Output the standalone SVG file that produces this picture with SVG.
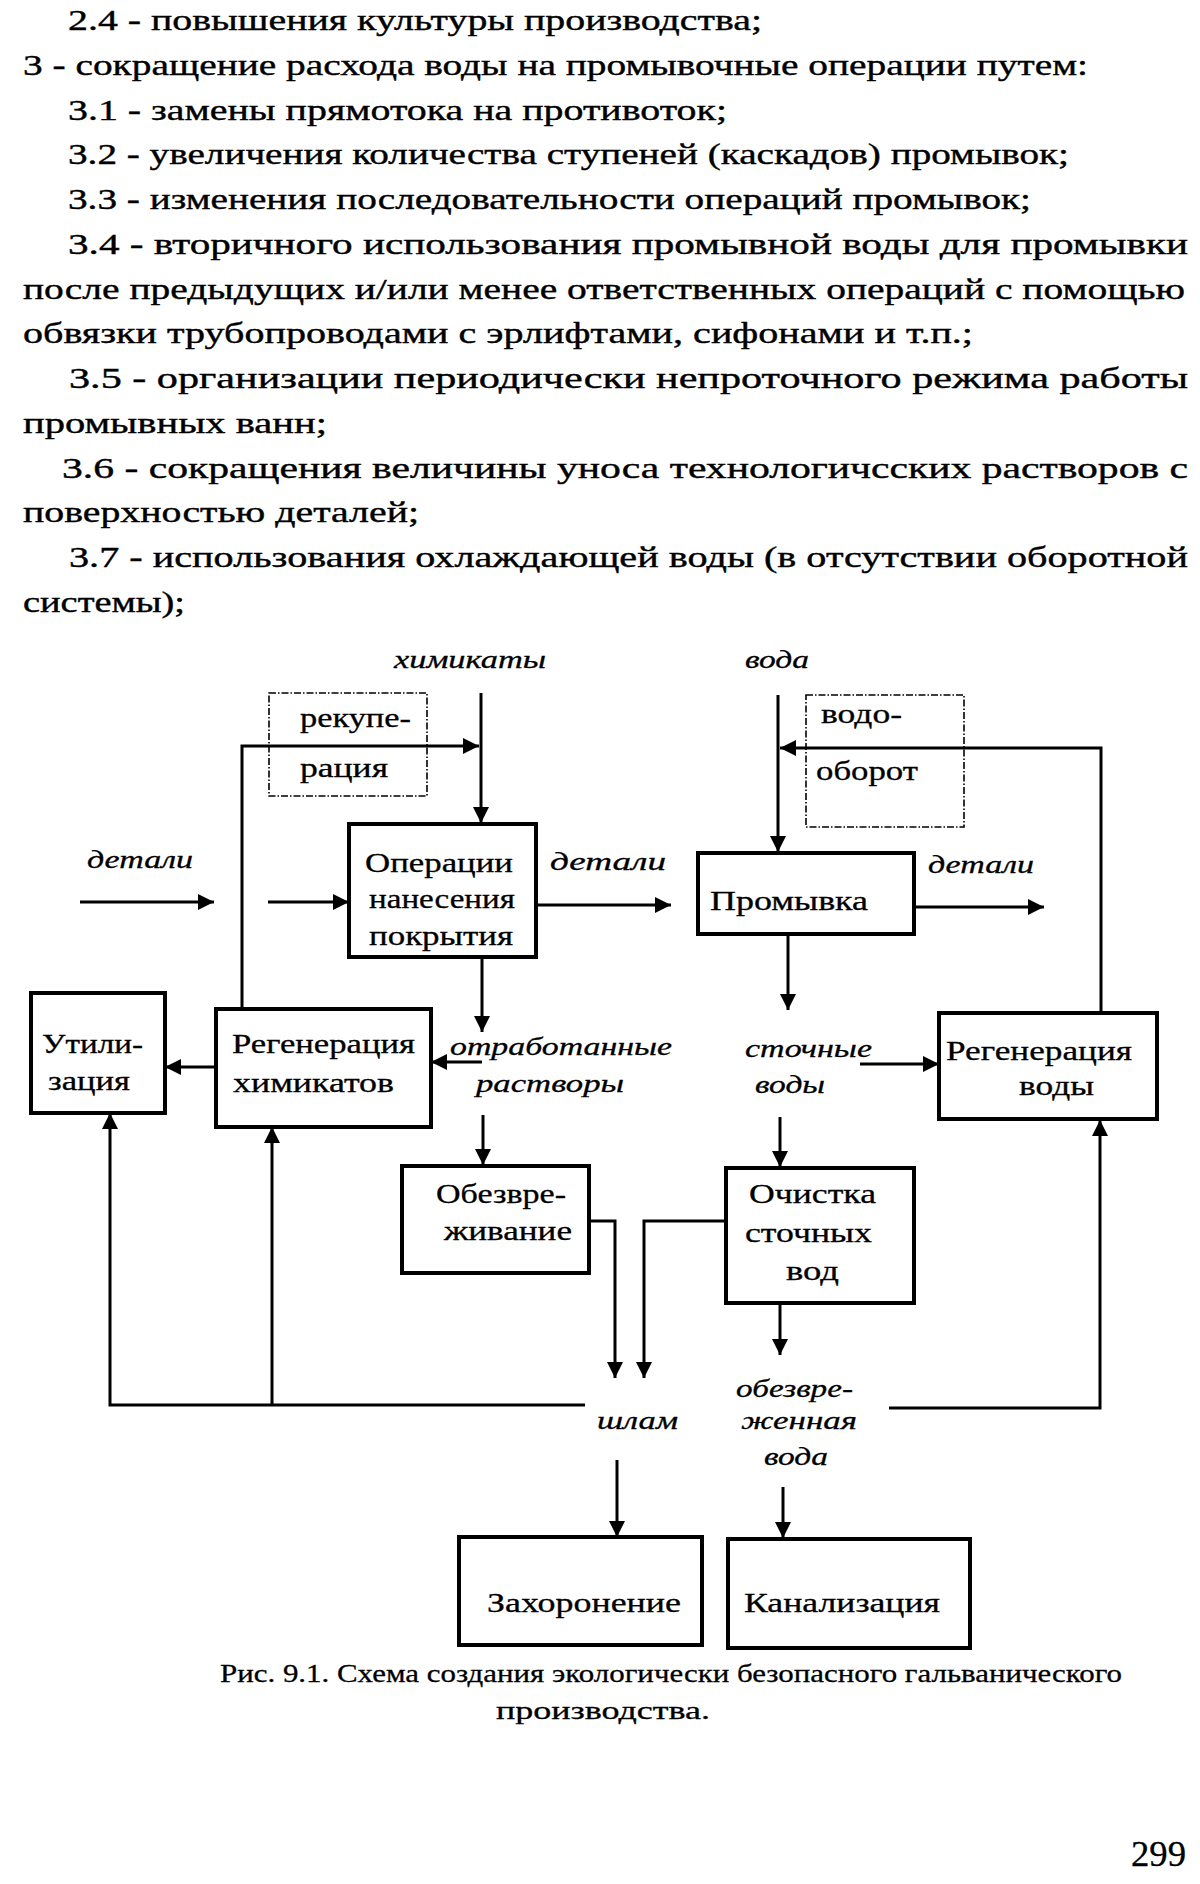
<svg xmlns="http://www.w3.org/2000/svg" width="1200" height="1884" viewBox="0 0 1200 1884">
<style>
text{font-family:"Liberation Serif","Times New Roman",serif;fill:#000}
.t{font-size:30px;stroke:#000;stroke-width:0.4}
.b{font-size:27px;stroke:#000;stroke-width:0.3}
.i{font-size:26px;font-style:italic;stroke:#000;stroke-width:0.3}
.c{font-size:26px;stroke:#000;stroke-width:0.3}
.p{font-size:36px;stroke:#000;stroke-width:0.3}
.box{fill:#fff;stroke:#000;stroke-width:4}
.dash{fill:none;stroke:#000;stroke-width:1.6;stroke-dasharray:7 2 1.5 2}
.ln{fill:none;stroke:#000;stroke-width:3}
</style>
<defs>
<marker id="ah" markerUnits="userSpaceOnUse" markerWidth="16" markerHeight="16" refX="16" refY="8" orient="auto">
<path d="M0,0 L16,8 L0,16 z" fill="#000"/>
</marker>
</defs>
<rect width="1200" height="1884" fill="#fff"/>
<g id="body-text">
<text class="t" x="68" y="30" textLength="694" lengthAdjust="spacingAndGlyphs">2.4 - повышения культуры производства;</text>
<text class="t" x="23" y="75" textLength="1065" lengthAdjust="spacingAndGlyphs">3 - сокращение расхода воды на промывочные операции путем:</text>
<text class="t" x="68" y="120" textLength="659" lengthAdjust="spacingAndGlyphs">3.1 - замены прямотока на противоток;</text>
<text class="t" x="68" y="164" textLength="1001" lengthAdjust="spacingAndGlyphs">3.2 - увеличения количества ступеней (каскадов) промывок;</text>
<text class="t" x="68" y="209" textLength="963" lengthAdjust="spacingAndGlyphs">3.3 - изменения последовательности операций промывок;</text>
<text class="t" x="68" y="254" textLength="1120" lengthAdjust="spacingAndGlyphs">3.4 - вторичного использования промывной воды для промывки</text>
<text class="t" x="23" y="299" textLength="1162" lengthAdjust="spacingAndGlyphs">после предыдущих и/или менее ответственных операций с помощью</text>
<text class="t" x="23" y="343" textLength="950" lengthAdjust="spacingAndGlyphs">обвязки трубопроводами с эрлифтами, сифонами и т.п.;</text>
<text class="t" x="69" y="388" textLength="1119" lengthAdjust="spacingAndGlyphs">3.5 - организации периодически непроточного режима работы</text>
<text class="t" x="23" y="433" textLength="304" lengthAdjust="spacingAndGlyphs">промывных ванн;</text>
<text class="t" x="62" y="478" textLength="1126" lengthAdjust="spacingAndGlyphs">3.6 - сокращения величины уноса технологичсских растворов с</text>
<text class="t" x="23" y="522" textLength="396" lengthAdjust="spacingAndGlyphs">поверхностью деталей;</text>
<text class="t" x="69" y="567" textLength="1119" lengthAdjust="spacingAndGlyphs">3.7 - использования охлаждающей воды (в отсутствии оборотной</text>
<text class="t" x="23" y="612" textLength="162" lengthAdjust="spacingAndGlyphs">системы);</text>
</g>
<g id="connectors">
<path class="ln" d="M481,693 V823" marker-end="url(#ah)"/>
<path class="ln" d="M242,1008 V746 H479" marker-end="url(#ah)"/>
<path class="ln" d="M80,902 H214" marker-end="url(#ah)"/>
<path class="ln" d="M268,902 H349" marker-end="url(#ah)"/>
<path class="ln" d="M536,905 H671" marker-end="url(#ah)"/>
<path class="ln" d="M778,695 V852" marker-end="url(#ah)"/>
<path class="ln" d="M1101,1013 V748 H780" marker-end="url(#ah)"/>
<path class="ln" d="M914,907 H1044" marker-end="url(#ah)"/>
<path class="ln" d="M788,934 V1010" marker-end="url(#ah)"/>
<path class="ln" d="M482,957 V1032" marker-end="url(#ah)"/>
<path class="ln" d="M482,1062 H431" marker-end="url(#ah)"/>
<path class="ln" d="M216,1067 H165" marker-end="url(#ah)"/>
<path class="ln" d="M483,1115 V1165" marker-end="url(#ah)"/>
<path class="ln" d="M860,1064 H939" marker-end="url(#ah)"/>
<path class="ln" d="M780,1117 V1167" marker-end="url(#ah)"/>
<path class="ln" d="M589,1221 H615 V1378" marker-end="url(#ah)"/>
<path class="ln" d="M726,1221 H644 V1378" marker-end="url(#ah)"/>
<path class="ln" d="M780,1303 V1355" marker-end="url(#ah)"/>
<path class="ln" d="M585,1405 H110 V1113" marker-end="url(#ah)"/>
<path class="ln" d="M272,1405 V1127" marker-end="url(#ah)"/>
<path class="ln" d="M889,1408 H1100 V1120" marker-end="url(#ah)"/>
<path class="ln" d="M617,1460 V1537" marker-end="url(#ah)"/>
<path class="ln" d="M783,1487 V1538" marker-end="url(#ah)"/>
</g>
<g id="recuperation">
<rect class="dash" x="269" y="693" width="158" height="103"/>
<text class="b" x="300" y="727" textLength="111" lengthAdjust="spacingAndGlyphs">рекупе-</text>
<text class="b" x="300" y="777" textLength="88" lengthAdjust="spacingAndGlyphs">рация</text>
</g>
<g id="water-recycling">
<rect class="dash" x="806" y="695" width="158" height="132"/>
<text class="b" x="821" y="723" textLength="81" lengthAdjust="spacingAndGlyphs">водо-</text>
<text class="b" x="816" y="780" textLength="102" lengthAdjust="spacingAndGlyphs">оборот</text>
</g>
<g id="coating">
<rect class="box" x="349" y="824" width="187" height="133"/>
<text class="b" x="365" y="872" textLength="148" lengthAdjust="spacingAndGlyphs">Операции</text>
<text class="b" x="369" y="908" textLength="146" lengthAdjust="spacingAndGlyphs">нанесения</text>
<text class="b" x="369" y="945" textLength="144" lengthAdjust="spacingAndGlyphs">покрытия</text>
</g>
<g id="rinsing">
<rect class="box" x="698" y="853" width="216" height="81"/>
<text class="b" x="710" y="910" textLength="158" lengthAdjust="spacingAndGlyphs">Промывка</text>
</g>
<g id="utilization">
<rect class="box" x="31" y="993" width="134" height="120"/>
<text class="b" x="42" y="1053" textLength="101" lengthAdjust="spacingAndGlyphs">Утили-</text>
<text class="b" x="48" y="1090" textLength="82" lengthAdjust="spacingAndGlyphs">зация</text>
</g>
<g id="chem-regeneration">
<rect class="box" x="216" y="1009" width="215" height="118"/>
<text class="b" x="232" y="1053" textLength="183" lengthAdjust="spacingAndGlyphs">Регенерация</text>
<text class="b" x="233" y="1092" textLength="161" lengthAdjust="spacingAndGlyphs">химикатов</text>
</g>
<g id="water-regeneration">
<rect class="box" x="939" y="1013" width="218" height="106"/>
<text class="b" x="946" y="1060" textLength="186" lengthAdjust="spacingAndGlyphs">Регенерация</text>
<text class="b" x="1019" y="1095" textLength="75" lengthAdjust="spacingAndGlyphs">воды</text>
</g>
<g id="neutralization">
<rect class="box" x="402" y="1166" width="187" height="107"/>
<text class="b" x="436" y="1203" textLength="130" lengthAdjust="spacingAndGlyphs">Обезвре-</text>
<text class="b" x="444" y="1240" textLength="128" lengthAdjust="spacingAndGlyphs">живание</text>
</g>
<g id="wastewater-treatment">
<rect class="box" x="726" y="1168" width="188" height="135"/>
<text class="b" x="749" y="1203" textLength="127" lengthAdjust="spacingAndGlyphs">Очистка</text>
<text class="b" x="745" y="1242" textLength="127" lengthAdjust="spacingAndGlyphs">сточных</text>
<text class="b" x="786" y="1280" textLength="53" lengthAdjust="spacingAndGlyphs">вод</text>
</g>
<g id="burial">
<rect class="box" x="459" y="1537" width="243" height="108"/>
<text class="b" x="487" y="1612" textLength="194" lengthAdjust="spacingAndGlyphs">Захоронение</text>
</g>
<g id="sewer">
<rect class="box" x="728" y="1539" width="242" height="109"/>
<text class="b" x="744" y="1612" textLength="196" lengthAdjust="spacingAndGlyphs">Канализация</text>
</g>
<g id="flow-labels">
<text class="i" x="394" y="668" textLength="152" lengthAdjust="spacingAndGlyphs">химикаты</text>
<text class="i" x="745" y="668" textLength="64" lengthAdjust="spacingAndGlyphs">вода</text>
<text class="i" x="87" y="868" textLength="106" lengthAdjust="spacingAndGlyphs">детали</text>
<text class="i" x="550" y="870" textLength="116" lengthAdjust="spacingAndGlyphs">детали</text>
<text class="i" x="928" y="873" textLength="106" lengthAdjust="spacingAndGlyphs">детали</text>
<text class="i" x="450" y="1055" textLength="222" lengthAdjust="spacingAndGlyphs">отработанные</text>
<text class="i" x="476" y="1092" textLength="148" lengthAdjust="spacingAndGlyphs">растворы</text>
<text class="i" x="745" y="1057" textLength="127" lengthAdjust="spacingAndGlyphs">сточные</text>
<text class="i" x="755" y="1093" textLength="70" lengthAdjust="spacingAndGlyphs">воды</text>
<text class="i" x="736" y="1397" textLength="117" lengthAdjust="spacingAndGlyphs">обезвре-</text>
<text class="i" x="741" y="1429" textLength="116" lengthAdjust="spacingAndGlyphs">женная</text>
<text class="i" x="764" y="1465" textLength="64" lengthAdjust="spacingAndGlyphs">вода</text>
<text class="i" x="597" y="1429" textLength="81" lengthAdjust="spacingAndGlyphs">шлам</text>
</g>
<g id="caption">
<text class="c" x="220" y="1682" textLength="902" lengthAdjust="spacingAndGlyphs">Рис. 9.1. Схема создания экологически безопасного гальванического</text>
<text class="c" x="496" y="1719" textLength="214" lengthAdjust="spacingAndGlyphs">производства.</text>
<text class="p" x="1131" y="1866" textLength="55" lengthAdjust="spacingAndGlyphs">299</text>
</g>
</svg>
